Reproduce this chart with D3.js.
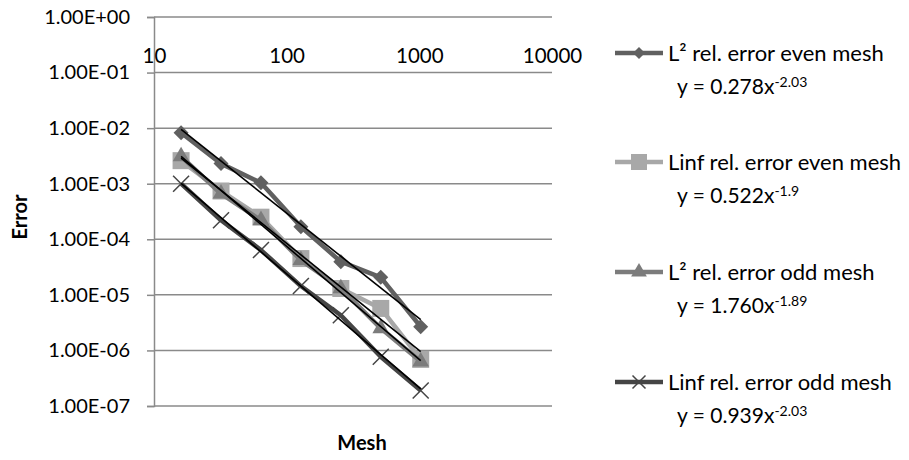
<!DOCTYPE html>
<html>
<head>
<meta charset="utf-8">
<script src="https://cdn.jsdelivr.net/npm/d3@7"></script>
<style>
  body { margin: 0; background: #fff; }
  text { font-family: Lato, "Open Sans", sans-serif; fill: #000; }
</style>
</head>
<body>
<div id="chart"></div>
<script>
var mesh = [16, 32, 64, 128, 256, 512, 1024];
var l2Even   = [8.3e-3, 2.3e-3, 1.04e-3, 1.68e-4, 3.95e-5, 2.07e-5, 2.67e-6];
var linfEven = [2.6e-3, 7.4e-4, 2.5e-4, 4.5e-5, 1.3e-5, 5.7e-6, 6.9e-7];
var l2Odd    = [3.1e-3, 6.6e-4, 2.2e-4, 4.2e-5, 1.3e-5, 2.5e-6, 6.3e-7];
var linfOdd  = [1.0e-3, 2.2e-4, 6.4e-5, 1.44e-5, 4.3e-6, 7.7e-7, 1.9e-7];

var seriesNames = ["L\u00b2 rel. error even mesh", "Linf rel. error even mesh",
                   "L\u00b2 rel. error odd mesh", "Linf rel. error odd mesh"];
var eqCoef = ["0.278", "0.522", "1.760", "0.939"];
var eqExp  = ["-2.03", "-1.9", "-1.89", "-2.03"];
var xTicks = [10, 100, 1000, 10000];
var yTicks = [1, 1e-1, 1e-2, 1e-3, 1e-4, 1e-5, 1e-6, 1e-7];

var W = 909, H = 460;

var svg = d3.select("#chart").append("svg")
    .attr("width", W)
    .attr("height", H);

svg.append("rect").attr("width", W).attr("height", H).attr("fill", "#fff");

var x = d3.scaleLog().domain([10, 10000]).range([154, 552]);
var y = d3.scaleLog().domain([1e-7, 1]).range([406, 17]);

var gridColor = "#8a8a8a";

// horizontal gridlines
svg.append("g").selectAll("line")
    .data(yTicks)
    .enter().append("line")
    .attr("x1", x(10)).attr("x2", x(10000))
    .attr("y1", function(d) { return y(d); })
    .attr("y2", function(d) { return y(d); })
    .attr("stroke", gridColor)
    .attr("stroke-width", 1.5);

// y axis
function sciFmt(d) {
  var e = Math.round(Math.log10(d));
  return "1.00E" + (e < 0 ? "-" : "+") + String(Math.abs(e)).padStart(2, "0");
}
var yAxis = svg.append("g")
    .attr("transform", "translate(" + x(10) + ",0)")
    .call(d3.axisLeft(y).tickValues(yTicks).tickFormat(sciFmt).tickSize(7).tickPadding(17));
yAxis.select(".domain").attr("stroke", gridColor).attr("stroke-width", 1.5);
yAxis.selectAll(".tick line").attr("stroke", gridColor).attr("stroke-width", 1.5);
yAxis.selectAll("text").style("font-size", "20px").attr("fill", "#000");

// x axis (crosses at 1.00E+00, top)
var xAxis = svg.append("g")
    .attr("transform", "translate(0," + y(1) + ")")
    .call(d3.axisBottom(x).tickValues(xTicks).tickFormat(d3.format("d")).tickSize(0));
xAxis.select(".domain").remove();
xAxis.selectAll("text")
    .style("font-size", "20.5px")
    .attr("fill", "#000")
    .attr("y", 38.5)
    .attr("dy", "0.35em");

// axis titles
svg.append("text")
    .attr("transform", "translate(20,217) rotate(-90)")
    .attr("text-anchor", "middle")
    .attr("dy", "0.35em")
    .style("font-size", "20px")
    .style("font-weight", "bold")
    .text("Error");

svg.append("text")
    .attr("x", 362).attr("y", 443)
    .attr("text-anchor", "middle")
    .attr("dy", "0.35em")
    .style("font-size", "20px")
    .style("font-weight", "bold")
    .text("Mesh");

// series
var series = [
  { vals: l2Even,   color: "#606060", marker: "diamond" },
  { vals: linfEven, color: "#a8a8a8", marker: "square" },
  { vals: l2Odd,    color: "#7c7c7c", marker: "triangle" },
  { vals: linfOdd,  color: "#454545", marker: "cross" }
];

var line = d3.line()
    .x(function(d) { return x(d[0]); })
    .y(function(d) { return y(d[1]); });

// size = approx width in px
function drawMarker(g, type, color, size) {
  if (type === "cross") {
    var h = size / 2;
    g.append("path")
        .attr("d", "M" + (-h) + "," + (-h) + "L" + h + "," + h + "M" + (-h) + "," + h + "L" + h + "," + (-h))
        .attr("stroke", color)
        .attr("stroke-width", 1.5)
        .attr("fill", "none");
  } else if (type === "diamond") {
    g.append("path")
        .attr("d", d3.symbol().type(d3.symbolDiamond2).size(Math.pow(size / 2 / 0.62625, 2))())
        .attr("fill", color);
  } else if (type === "square") {
    g.append("path")
        .attr("d", d3.symbol().type(d3.symbolSquare2).size(Math.pow(size / 0.8862, 2))())
        .attr("fill", color);
  } else {
    g.append("path")
        .attr("d", d3.symbol().type(d3.symbolTriangle2).size(Math.pow(size / 1.2, 2))())
        .attr("fill", color);
  }
}

series.forEach(function(s) {
  var pts = mesh.map(function(m, i) { return [m, s.vals[i]]; });
  var g = svg.append("g");
  g.append("path")
      .attr("d", line(pts))
      .attr("fill", "none")
      .attr("stroke", s.color)
      .attr("stroke-width", 4.5)
      .attr("stroke-linejoin", "round");
  pts.forEach(function(p) {
    var mg = g.append("g").attr("transform", "translate(" + x(p[0]) + "," + y(p[1]) + ")");
    drawMarker(mg, s.marker, s.color, s.marker === "cross" ? 16 : (s.marker === "diamond" ? 15 : 17));
  });
});

// power trendlines (least squares in log-log space)
series.forEach(function(s) {
  var lx = mesh.map(function(m) { return Math.log(m); });
  var ly = s.vals.map(function(v) { return Math.log(v); });
  var mx = d3.mean(lx), my = d3.mean(ly);
  var b = d3.sum(lx, function(v, i) { return (v - mx) * (ly[i] - my); }) /
          d3.sum(lx, function(v) { return (v - mx) * (v - mx); });
  var a = my - b * mx;
  var ends = [mesh[0], mesh[mesh.length - 1]].map(function(m) { return [m, Math.exp(a + b * Math.log(m))]; });
  svg.append("path")
      .attr("d", line(ends))
      .attr("fill", "none")
      .attr("stroke", "#000")
      .attr("stroke-width", 1.6);
});

// legend
var legendY = [53, 162, 272, 382];
var leg = svg.append("g");
series.forEach(function(s, i) {
  var g = leg.append("g").attr("transform", "translate(0," + legendY[i] + ")");
  g.append("line")
      .attr("x1", 615).attr("x2", 663)
      .attr("stroke", s.color)
      .attr("stroke-width", 4.5);
  var mg = g.append("g").attr("transform", "translate(639,0)");
  drawMarker(mg, s.marker, s.color, s.marker === "diamond" ? 12 : (s.marker === "cross" ? 13 : 16));
  g.append("text")
      .attr("x", 668).attr("y", 0)
      .attr("dy", "0.35em")
      .style("font-size", "22px")
      .text(seriesNames[i]);
  var eq = g.append("text")
      .attr("x", 677).attr("y", 34)
      .attr("dy", "0.35em")
      .style("font-size", "21px");
  eq.append("tspan").text("y = " + eqCoef[i] + "x");
  eq.append("tspan")
      .attr("dy", "-0.5em")
      .style("font-size", "14px")
      .text(eqExp[i]);
});
</script>
</body>
</html>
